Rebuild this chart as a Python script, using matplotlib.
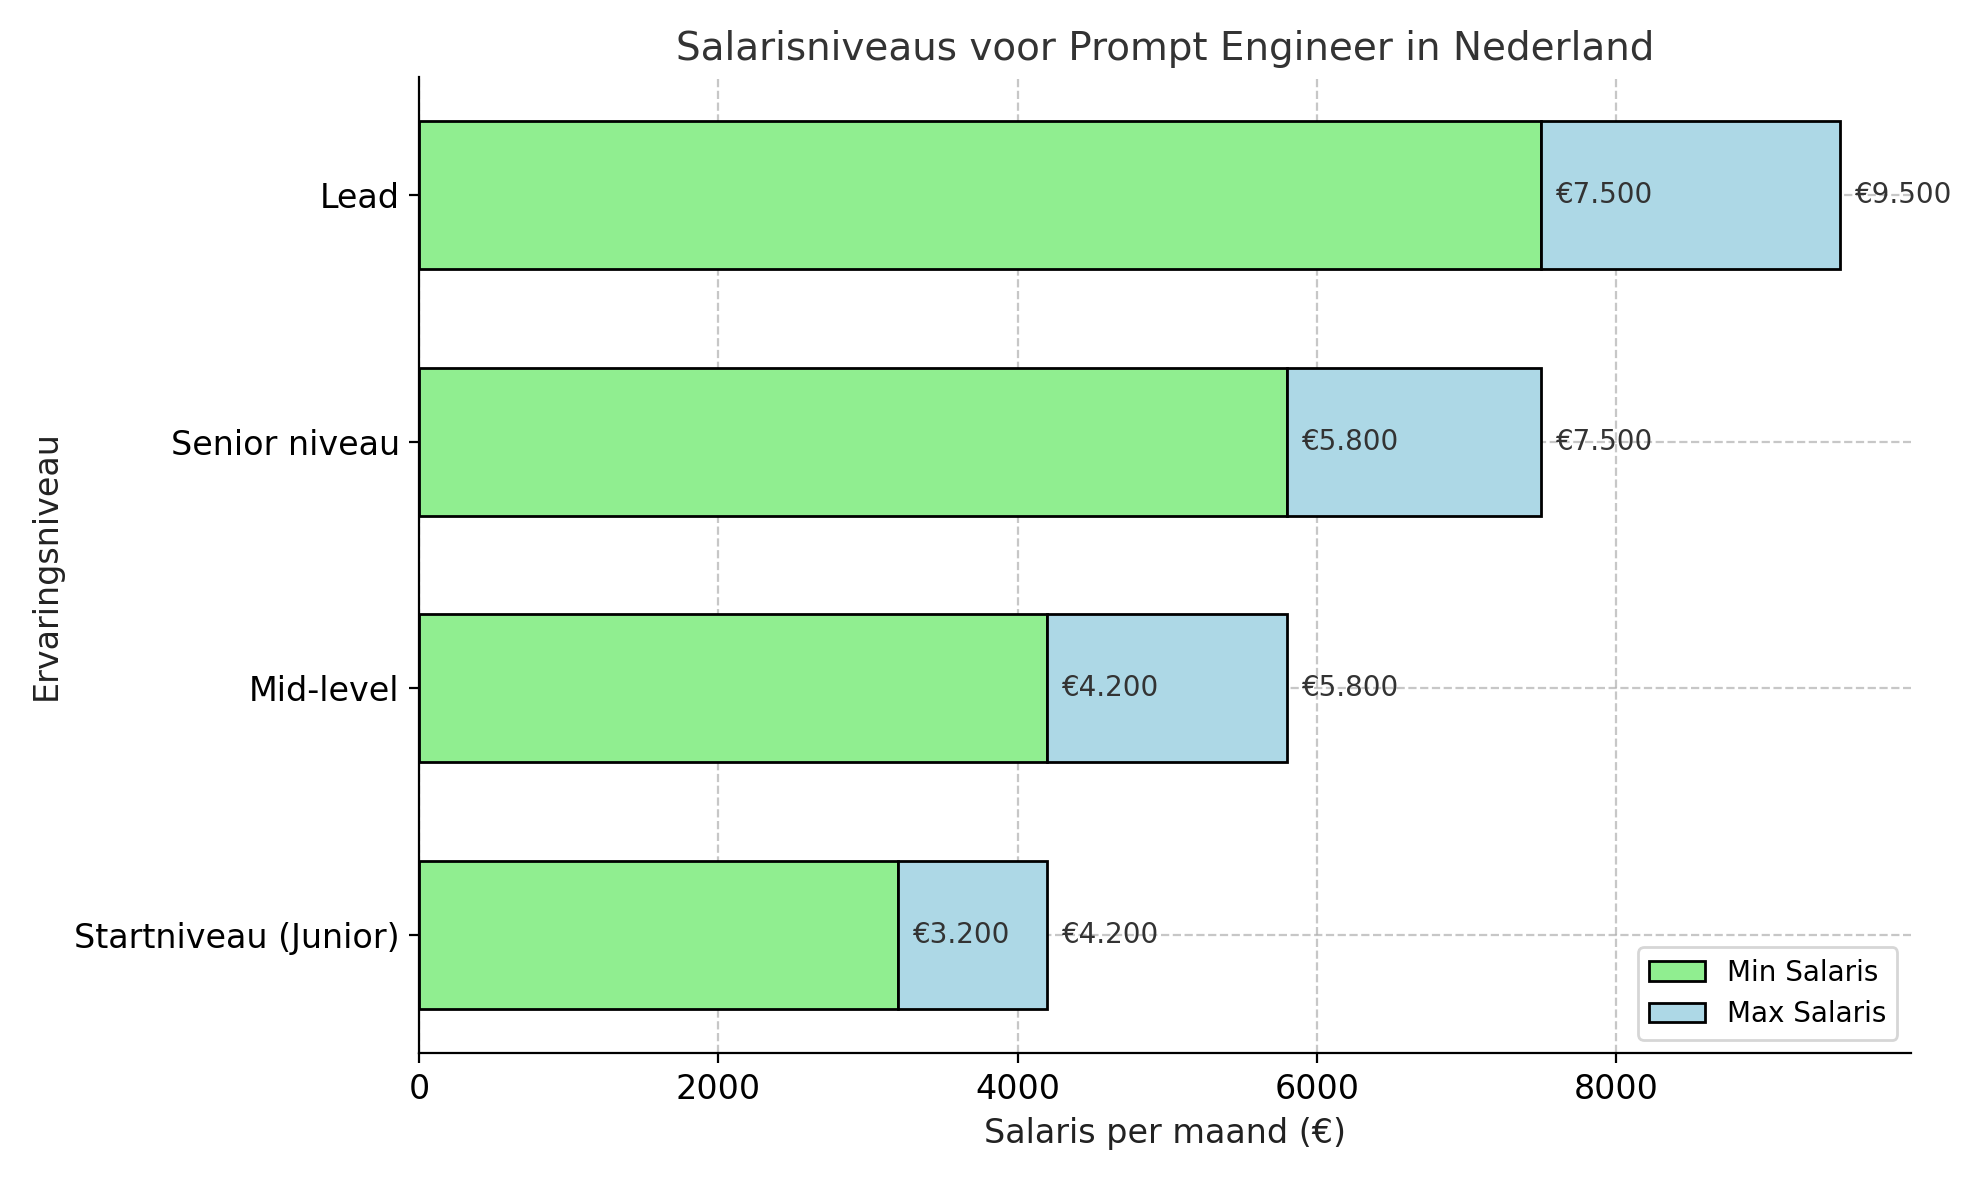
import matplotlib
matplotlib.use("Agg")
import matplotlib.pyplot as plt

levels = ["Startniveau (Junior)", "Mid-level", "Senior niveau", "Lead"]
min_sal = [3200, 4200, 5800, 7500]
max_sal = [4200, 5800, 7500, 9500]

def fmt(v):
    return "€" + f"{v:,}".replace(",", ".")

fig, ax = plt.subplots(figsize=(9.905, 5.9), dpi=200)
widths = [mx - mn for mn, mx in zip(min_sal, max_sal)]
ax.barh(levels, min_sal, color="lightgreen", edgecolor="black", height=0.6, label="Min Salaris", zorder=2)
ax.barh(levels, widths, left=min_sal, color="lightblue", edgecolor="black", height=0.6, label="Max Salaris", zorder=2)
for i, (mn, mx) in enumerate(zip(min_sal, max_sal)):
    ax.text(mn + 100, i, fmt(mn), va="center", fontsize=10, color="#333333")
    ax.text(mx + 100, i, fmt(mx), va="center", fontsize=10, color="#333333")

ax.set_title("Salarisniveaus voor Prompt Engineer in Nederland", fontsize=14, color="#333333")
ax.set_xlabel("Salaris per maand (€)", fontsize=12, color="#222222")
ax.set_ylabel("Ervaringsniveau", fontsize=12, color="#222222")
ax.tick_params(labelsize=12)
ax.grid(True, linestyle="--", alpha=0.7, zorder=0)
ax.spines["top"].set_visible(False)
ax.spines["right"].set_visible(False)
ax.legend(loc="lower right", fontsize=10)
fig.tight_layout()
fig.savefig("out.png")
